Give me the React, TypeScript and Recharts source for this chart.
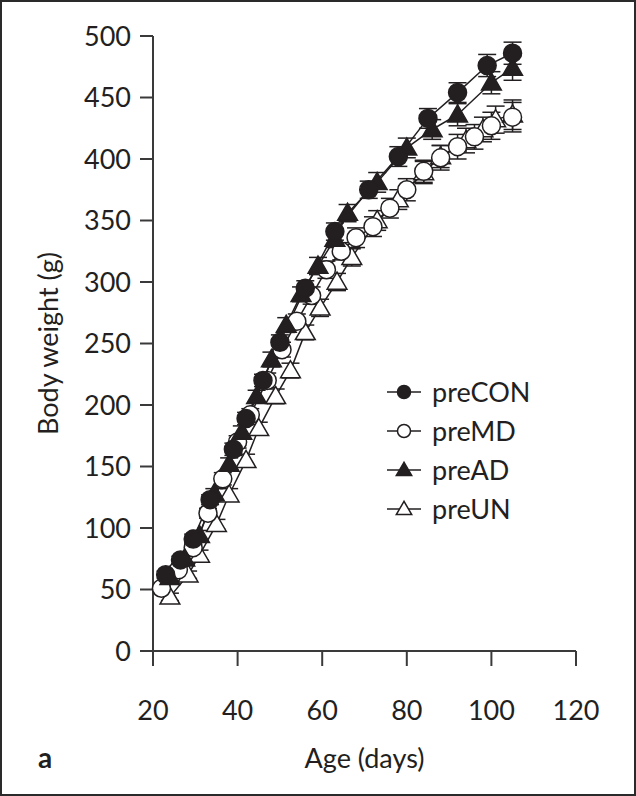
import { LineChart, Line, XAxis, YAxis, ErrorBar } from 'recharts';

const ink = '#231f20';
const axisColor = '#3a3a3a';
const font = 'Lato, sans-serif';

const xTicks = [20, 40, 60, 80, 100, 120];
const yTicks = [0, 50, 100, 150, 200, 250, 300, 350, 400, 450, 500];

const conDays = [23, 26.5, 29.5, 33.5, 39, 42, 46, 50, 56, 63, 71, 78, 85, 92, 99, 105];
const conWeight = [62, 74, 91, 123, 164, 189, 220, 251, 295, 341, 375, 402, 433, 454, 476, 486];
const conErr = [3, 3, 4, 4, 5, 5, 5, 6, 6, 7, 7, 8, 8, 8, 9, 9];

const mdDays = [22, 26, 29.5, 33, 36.5, 40, 43, 47, 50.5, 54, 57.5, 61, 64.5, 68, 72, 76, 80, 84, 88, 92, 96, 100, 105];
const mdWeight = [51, 66, 84, 112, 140, 170, 192, 220, 245, 268, 289, 310, 325, 336, 345, 360, 375, 390, 401, 410, 418, 427, 434];
const mdErr = [3, 3, 4, 4, 5, 5, 5, 6, 6, 6, 7, 7, 7, 8, 8, 8, 9, 9, 10, 10, 10, 11, 12];

const adDays = [24, 27.5, 31, 34.5, 38, 41, 44.5, 48, 51.5, 55, 59, 63, 66, 73, 80, 86, 92, 100, 105];
const adWeight = [60, 75, 94, 128, 152, 178, 207, 237, 265, 290, 313, 335, 356, 381, 409, 424, 436, 462, 474];
const adErr = [3, 3, 4, 4, 5, 5, 5, 6, 6, 6, 7, 7, 7, 8, 8, 8, 9, 9, 10];

const unDays = [24, 28.3, 31, 35, 38, 42, 45, 49, 52.5, 56, 59.5, 63.5, 67, 73, 78, 84, 88, 94, 98, 101, 105];
const unWeight = [44, 62, 78, 103, 127, 155, 181, 207, 228, 259, 279, 300, 320, 350, 367, 389, 402, 415, 424, 432, 436];
const unErr = [3, 3, 4, 4, 5, 5, 5, 6, 6, 6, 7, 7, 7, 8, 8, 9, 9, 10, 10, 11, 12];

const build = (days: number[], w: number[], e: number[]) =>
  days.map((d, i) => ({ day: d, weight: w[i], err: e[i] }));

const conData = build(conDays, conWeight, conErr);
const mdData = build(mdDays, mdWeight, mdErr);
const adData = build(adDays, adWeight, adErr);
const unData = build(unDays, unWeight, unErr);

type Kind = 'circle' | 'triangle';

const Marker = ({ cx, cy, kind, filled, size }: { cx: number; cy: number; kind: Kind; filled: boolean; size: number }) => {
  const fill = filled ? ink : '#fff';
  if (kind === 'circle') {
    return <circle cx={cx} cy={cy} r={size} fill={fill} stroke={ink} strokeWidth={1.5} />;
  }
  const h = size * 1.9;
  const w = size * 1.1;
  return (
    <polygon
      points={`${cx},${cy - h * 0.58} ${cx - w},${cy + h * 0.42} ${cx + w},${cy + h * 0.42}`}
      fill={fill}
      stroke={ink}
      strokeWidth={1.5}
    />
  );
};

const dotFor = (kind: Kind, filled: boolean) => (props: any) =>
  <Marker key={`${kind}-${filled}-${props.index}`} cx={props.cx} cy={props.cy} kind={kind} filled={filled} size={9} />;

const legendItems: { name: string; kind: Kind; filled: boolean }[] = [
  { name: 'preCON', kind: 'circle', filled: true },
  { name: 'preMD', kind: 'circle', filled: false },
  { name: 'preAD', kind: 'triangle', filled: true },
  { name: 'preUN', kind: 'triangle', filled: false },
];

// legend drawn outside the chart so it doesn't eat into the plot margins
const ChartLegend = () => (
  <svg width={220} height={160} style={{ position: 'absolute', left: 383, top: 374 }}>
    {legendItems.map((it, i) => {
      const y = 16 + i * 39;
      return (
        <g key={it.name}>
          <line x1={2} x2={36} y1={y} y2={y} stroke={ink} strokeWidth={1.5} />
          <Marker cx={19} cy={y} kind={it.kind} filled={it.filled} size={it.kind === 'circle' ? 6.5 : 7} />
          <text x={47} y={y} dy="0.36em" fontSize={27} fill={ink} fontFamily={font}>
            {it.name}
          </text>
        </g>
      );
    })}
  </svg>
);

export default function App() {
  return (
    <div
      style={{
        position: 'fixed',
        left: 0,
        top: 0,
        width: 632,
        height: 792,
        border: '2px solid #2a2a2a',
        background: '#fff',
        fontFamily: font,
      }}
    >
      <div style={{ position: 'absolute', left: -2, top: -2 }}>
        <LineChart
          width={636}
          height={796}
          margin={{ top: 36, right: 60, left: 33, bottom: 85 }}
        >
          <XAxis
            dataKey="day"
            type="number"
            domain={[20, 120]}
            ticks={xTicks}
            allowDuplicatedCategory={false}
            stroke={axisColor}
            strokeWidth={2}
            tickSize={15}
            tickMargin={35}
            height={60}
            tick={{ fill: ink, fontSize: 27, fontFamily: font }}
            label={{ value: 'Age (days)', position: 'bottom', offset: 38, fill: ink, fontSize: 27, fontFamily: font }}
          />
          <YAxis
            dataKey="weight"
            type="number"
            domain={[0, 500]}
            ticks={yTicks}
            stroke={axisColor}
            strokeWidth={2}
            tickSize={13}
            tickMargin={9}
            width={120}
            tick={{ fill: ink, fontSize: 27, fontFamily: font }}
            label={{ value: 'Body weight (g)', angle: -90, position: 'insideLeft', offset: 15, fill: ink, fontSize: 27, fontFamily: font, style: { textAnchor: 'middle' } }}
          />
          <Line data={unData} dataKey="weight" name="preUN" stroke={ink} strokeWidth={1.5} dot={dotFor('triangle', false)} isAnimationActive={false}>
            <ErrorBar dataKey="err" width={9} stroke={ink} strokeWidth={1.5} direction="y" />
          </Line>
          <Line data={mdData} dataKey="weight" name="preMD" stroke={ink} strokeWidth={1.5} dot={dotFor('circle', false)} isAnimationActive={false}>
            <ErrorBar dataKey="err" width={9} stroke={ink} strokeWidth={1.5} direction="y" />
          </Line>
          <Line data={adData} dataKey="weight" name="preAD" stroke={ink} strokeWidth={1.5} dot={dotFor('triangle', true)} isAnimationActive={false}>
            <ErrorBar dataKey="err" width={9} stroke={ink} strokeWidth={1.5} direction="y" />
          </Line>
          <Line data={conData} dataKey="weight" name="preCON" stroke={ink} strokeWidth={1.5} dot={dotFor('circle', true)} isAnimationActive={false}>
            <ErrorBar dataKey="err" width={9} stroke={ink} strokeWidth={1.5} direction="y" />
          </Line>
        </LineChart>
      </div>
      <ChartLegend />
      <div
        style={{
          position: 'absolute',
          left: 36,
          top: 738,
          fontSize: 28,
          fontWeight: 700,
          color: ink,
          fontFamily: font,
        }}
      >
        a
      </div>
    </div>
  );
}
